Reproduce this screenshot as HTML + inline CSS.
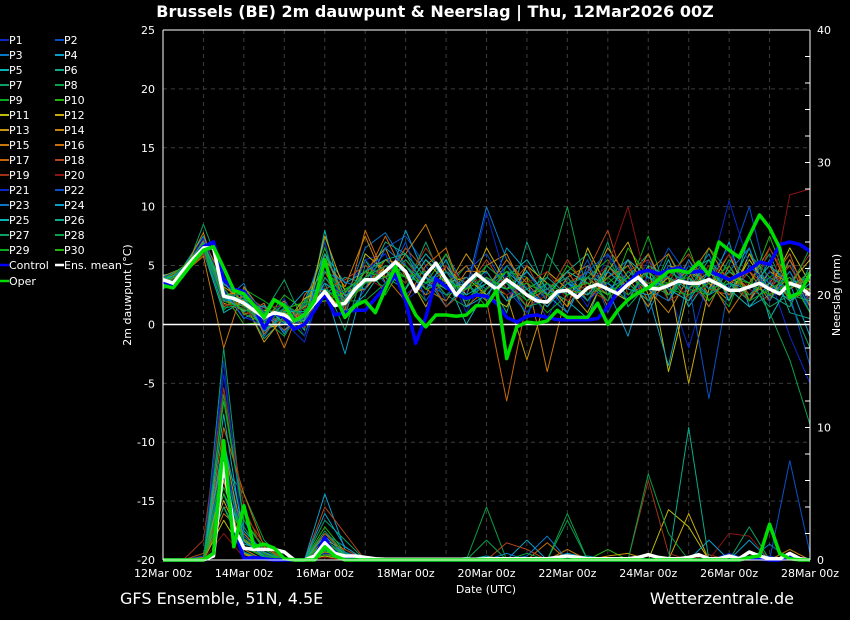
<!DOCTYPE html>
<html><head><meta charset="utf-8">
<style>
html,body{margin:0;padding:0;background:#000;}
svg{display:block;font-family:"DejaVu Sans","Liberation Sans",sans-serif;}
</style></head>
<body>
<svg id="chart" width="850" height="620" viewBox="0 0 850 620" xmlns="http://www.w3.org/2000/svg">
<rect width="850" height="620" fill="#000"/>
<text x="435" y="17" fill="#fff" font-size="16" font-weight="bold" text-anchor="middle">Brussels  (BE)  2m dauwpunt &amp; Neerslag | Thu, 12Mar2026 00Z</text>
<g id="grid"></g>
<g id="plot"></g>
<g id="axes"></g>
<g id="legend"></g>
<text x="131" y="295" fill="#fff" font-size="11" text-anchor="middle" transform="rotate(-90 131 295)">2m dauwpunt (°C)</text>
<text x="840" y="295" fill="#fff" font-size="11" text-anchor="middle" transform="rotate(-90 840 295)">Neerslag (mm)</text>
<text x="486" y="593" fill="#fff" font-size="11" text-anchor="middle">Date (UTC)</text>
<text x="120" y="604" fill="#fff" font-size="16">GFS Ensemble, 51N, 4.5E</text>
<text x="794" y="604" fill="#fff" font-size="16" text-anchor="end">Wetterzentrale.de</text>
</svg>
<script>
const xTickLabels = ['12Mar 00z','14Mar 00z','16Mar 00z','18Mar 00z','20Mar 00z','22Mar 00z','24Mar 00z','26Mar 00z','28Mar 00z'];
const leftTicks = [25,20,15,10,5,0,-5,-10,-15,-20];
const rightTicks = [40,30,20,10,0];
// 6-hourly series (65 points)
const meanDew = [3.8,3.5,4.6,5.6,6.5,6.5,2.4,2.2,1.8,1.2,0.6,1.0,0.8,0.3,0.8,1.8,2.8,1.6,1.8,3.0,3.8,3.8,4.5,5.3,4.5,2.8,4.2,5.2,3.8,2.5,3.5,4.3,3.6,3.0,3.8,3.2,2.5,2.0,1.9,2.8,2.9,2.3,3.1,3.4,3.0,2.6,3.4,4.0,3.1,3.0,3.3,3.7,3.5,3.5,3.8,3.4,2.9,2.9,3.2,3.5,3.0,2.6,3.5,3.2,2.5];
const controlDew = [3.6,3.4,4.5,5.6,6.6,7.0,3.8,3.0,2.8,1.5,-0.3,1.0,0.6,-0.4,0.0,1.2,2.6,0.8,1.0,1.2,1.2,2.2,3.2,4.2,2.0,-1.6,0.6,3.9,3.2,2.6,2.2,2.5,2.4,1.8,0.6,0.2,0.7,0.8,0.6,0.4,0.4,0.4,0.4,0.5,1.5,2.8,3.5,4.4,4.6,4.3,4.6,4.8,4.4,4.5,4.5,4.2,3.8,4.2,4.6,5.3,5.1,6.8,7.0,6.8,6.2];
const operDew = [3.3,3.1,4.2,5.3,6.3,6.6,4.8,2.9,2.6,1.6,0.6,2.1,1.6,0.3,0.8,2.0,5.5,2.5,0.6,1.6,2.0,1.0,3.0,4.9,2.5,0.8,-0.2,0.8,0.8,0.7,0.8,1.6,1.6,2.9,-2.9,-0.2,0.2,0.1,0.3,1.2,0.6,0.6,0.6,1.8,0.0,1.2,2.1,2.7,3.1,3.8,4.5,4.6,4.4,5.3,4.2,7.0,6.3,5.7,7.5,9.3,8.2,6.5,2.3,2.7,4.3];
const meanPrecip = [0,0,0,0,0,0.3,7.3,2.5,0.9,0.8,0.8,0.8,0.6,0,0,0.3,1.3,0.5,0.3,0.3,0.2,0.1,0.05,0.05,0.05,0.05,0.05,0.05,0.05,0.05,0.05,0.05,0.1,0.1,0.1,0.1,0.1,0.1,0.1,0.2,0.3,0.2,0.1,0.1,0.1,0.1,0.1,0.2,0.4,0.2,0.1,0.1,0.2,0.4,0.1,0.1,0.3,0.1,0.6,0.3,0.1,0.1,0.5,0.1,0];
const controlPrecip = [0,0,0,0,0,0.5,8.3,2.5,0.1,0.2,0.1,0,0,0,0,0.2,1.7,0.3,0.2,0,0,0,0,0,0,0,0,0,0,0,0,0,0,0,0,0,0,0,0,0,0,0,0,0,0,0,0,0,0,0,0,0,0,0,0,0,0,0,0.2,0.1,0,0,0.3,0.1,0];
const operPrecip = [0,0,0,0,0,0.5,9.0,1.0,4.1,1.0,1.2,0.9,0.1,0,0,0,1.0,0.3,0,0,0,0,0,0,0,0,0,0,0,0,0,0,0,0,0,0,0,0,0,0,0,0,0,0,0,0,0,0,0,0,0,0,0,0,0,0,0,0,0.2,0.3,2.7,0.5,0.1,0,0];
// 12-hourly member series (33 points each)
const memberDew = [
[3.5,4.8,7.2,3.0,1.0,-0.5,0.2,-1.5,4.0,2.5,5.5,6.0,2.0,3.5,5.0,1.0,4.5,2.0,3.5,0.5,4.0,1.5,6.0,2.0,5.5,3.0,-2.0,4.0,6.5,2.0,4.0,-1.0,-5.0],
[4.0,4.5,6.8,1.5,2.5,0.8,-0.5,1.5,7.0,0.5,3.0,6.5,7.5,5.0,2.0,4.5,6.0,3.0,1.0,3.5,2.5,5.5,1.0,4.5,3.0,6.5,4.0,1.5,5.0,10.0,3.0,5.5,1.0],
[3.8,4.2,6.0,2.0,3.5,-1.0,1.5,0.5,3.0,2.0,6.5,7.8,5.0,2.5,6.0,3.0,10.0,5.5,3.0,1.5,3.5,2.0,4.0,5.5,1.0,4.5,3.5,6.0,2.0,5.0,3.5,2.5,3.0],
[3.6,4.9,7.5,2.8,0.5,1.5,-0.8,2.0,6.0,3.5,4.5,3.0,8.0,4.0,1.5,3.5,2.0,6.5,4.5,2.5,1.0,4.5,3.0,-1.0,4.5,2.5,5.0,3.0,7.0,1.5,2.5,4.5,1.5],
[4.2,4.4,6.2,1.0,2.0,0.0,1.8,-0.5,8.0,1.0,2.5,5.0,3.5,6.0,4.0,0.0,3.0,4.0,5.5,3.0,2.0,0.5,5.0,3.5,2.0,5.5,1.5,4.0,3.0,6.5,0.5,3.5,4.0],
[3.4,4.6,6.6,3.5,1.8,-1.2,0.5,1.0,2.5,4.0,3.5,7.0,6.0,3.0,5.5,2.0,4.0,1.0,7.0,2.5,4.5,6.0,2.5,4.0,6.0,2.0,4.5,5.5,3.5,2.0,5.5,1.0,0.5],
[3.0,4.0,8.5,4.0,2.2,1.0,3.8,0.0,3.5,-0.5,5.0,4.0,3.0,7.0,3.0,5.0,2.5,4.5,0.5,6.0,3.5,3.0,7.0,1.5,3.5,4.0,2.0,6.5,4.5,3.5,6.0,2.0,-2.0],
[3.9,4.7,6.4,2.2,1.5,0.5,-1.0,1.8,5.0,2.0,2.0,3.5,6.5,4.5,2.5,1.5,5.0,3.5,2.0,4.0,10.0,2.5,3.5,5.0,2.0,6.0,3.0,2.5,5.5,4.0,1.0,-3.0,-8.5],
[3.7,4.3,6.9,1.2,3.0,2.0,0.8,-1.0,4.5,3.0,4.0,5.5,4.0,2.0,4.5,3.5,1.5,5.0,3.0,1.0,2.5,4.0,5.5,3.0,7.5,2.0,5.0,3.5,1.5,6.0,4.0,5.0,2.0],
[3.3,4.1,6.1,2.6,0.0,0.2,2.5,1.2,6.5,1.5,5.5,2.5,5.5,3.5,6.0,2.0,3.5,4.5,4.0,2.0,5.0,3.5,2.0,6.5,4.0,3.5,6.5,2.0,4.0,3.0,7.5,3.0,4.5],
[3.5,4.6,7.0,2.5,2.8,-0.3,0.0,2.2,3.0,0.8,6.0,4.5,3.0,5.5,3.5,4.0,2.5,1.5,5.0,3.5,1.5,6.5,3.0,2.0,5.0,-4.0,3.0,4.5,2.5,5.5,3.0,6.5,3.5],
[4.1,4.8,6.3,1.8,1.2,1.2,1.0,0.3,7.5,2.8,3.0,5.0,4.5,1.5,5.0,2.5,6.5,3.5,1.5,4.5,3.0,1.0,4.5,7.0,2.5,4.0,-5.0,3.0,6.0,2.0,4.5,3.5,5.5],
[3.6,4.4,6.7,3.2,2.0,-1.5,0.7,1.5,2.0,1.8,4.5,6.5,2.5,4.0,3.0,6.0,3.5,2.5,-3.0,2.5,5.5,3.0,6.5,4.0,1.5,5.0,4.5,3.5,2.0,6.0,2.5,4.0,2.5],
[3.2,4.5,7.8,2.0,1.6,0.4,2.0,-0.2,5.5,3.2,7.5,3.5,6.0,8.5,4.5,3.0,5.0,6.0,2.5,3.5,1.5,4.0,2.5,5.5,3.0,1.0,4.0,6.5,3.5,4.5,2.0,5.5,2.5],
[3.9,4.3,5.8,-2.0,3.2,0.9,-0.5,0.8,3.5,2.5,3.0,5.5,5.0,3.0,2.0,4.5,4.5,2.0,4.0,-4.0,3.0,2.5,5.0,3.0,6.0,2.5,5.5,2.5,4.5,3.0,5.0,2.0,3.0],
[3.4,4.7,7.1,3.8,0.8,1.8,-2.0,2.5,4.5,1.2,8.0,4.0,2.0,5.0,6.5,1.5,3.0,5.5,3.5,1.5,4.0,5.0,1.5,3.5,4.5,6.0,2.5,4.0,1.0,3.5,6.5,3.0,4.0],
[3.7,4.9,6.5,1.5,2.4,-0.8,1.2,0.5,6.0,2.0,4.0,7.5,4.0,2.5,3.5,5.0,2.0,-6.5,2.0,3.0,4.5,2.0,4.0,5.0,2.0,3.5,4.5,1.5,5.0,2.5,3.5,6.0,1.5],
[3.5,4.2,6.0,2.7,1.0,0.6,0.3,1.0,3.0,3.8,5.0,4.0,6.5,4.5,1.5,3.0,5.5,3.0,5.0,2.0,3.5,4.5,8.0,2.5,3.5,4.0,6.0,3.0,2.5,4.5,3.0,5.0,2.0],
[3.8,4.6,6.8,2.3,2.6,1.4,1.6,-0.3,4.0,1.5,3.5,5.0,3.5,6.5,4.0,2.0,3.0,4.0,1.5,2.5,5.5,3.0,2.0,4.5,5.5,2.0,3.0,5.0,4.0,2.0,6.5,3.5,6.0],
[3.3,4.4,6.2,1.7,1.4,-0.2,0.4,1.4,2.5,2.2,4.0,3.0,5.5,3.0,5.0,3.5,4.0,2.5,3.5,4.5,2.0,3.5,5.0,10.0,3.0,4.5,2.0,3.5,6.0,3.0,2.0,11.0,11.5],
[3.6,4.5,7.3,2.9,0.6,0.0,2.2,-1.0,3.5,2.6,4.5,6.0,2.5,4.0,3.5,2.5,9.5,3.5,1.0,3.0,4.0,2.0,3.5,2.5,4.0,3.0,5.0,4.0,10.5,5.0,3.0,4.0,2.0],
[4.0,4.8,6.4,1.9,2.9,1.1,-0.6,0.6,5.0,1.0,5.5,3.5,7.0,2.0,4.5,3.0,4.0,2.0,4.5,2.0,3.0,4.5,6.0,3.5,2.0,5.0,3.5,-6.3,3.5,2.5,4.5,2.5,-3.5],
[3.4,4.0,6.9,2.1,1.9,0.3,1.4,0.9,4.5,3.6,3.0,6.5,5.0,3.5,2.5,4.0,3.0,5.0,2.5,3.5,1.0,5.0,3.0,4.0,3.0,2.0,5.5,3.0,4.5,6.5,2.0,4.5,1.0],
[3.7,4.6,6.6,3.4,2.3,-0.6,0.9,2.8,3.0,-2.5,4.0,5.0,4.5,3.0,5.5,1.5,2.5,4.5,3.0,1.5,3.5,2.5,4.5,3.0,2.5,-3.5,4.0,2.5,3.5,3.0,5.0,3.5,-1.0],
[3.9,4.3,6.3,2.4,1.1,1.6,0.1,0.4,6.0,2.4,3.5,4.5,3.0,5.5,4.0,2.5,3.5,3.0,4.5,2.5,4.5,3.5,2.5,5.5,4.0,3.0,2.0,4.5,3.0,1.5,3.5,2.0,3.5],
[3.5,4.7,7.0,2.6,2.1,0.7,1.1,1.1,3.5,2.2,4.5,5.5,6.0,4.0,3.0,3.5,4.5,2.0,3.0,4.0,2.5,4.0,3.5,2.0,5.0,4.0,3.0,5.5,2.0,7.5,2.5,1.5,5.0],
[3.1,4.1,6.4,1.4,1.7,-0.4,0.6,0.2,4.0,1.9,3.5,4.0,5.5,3.5,4.5,2.0,3.5,3.5,2.5,3.0,4.0,2.0,5.0,3.5,2.0,4.5,3.5,2.5,4.5,3.5,1.5,2.5,2.0],
[3.6,4.5,6.5,2.3,2.7,0.9,0.2,1.6,2.5,2.9,4.0,5.0,4.0,4.5,2.5,3.0,5.0,3.5,1.5,2.0,3.5,4.0,2.0,4.5,3.5,2.5,4.5,3.0,3.5,2.5,4.0,3.0,6.5],
[3.4,4.4,6.7,2.0,1.3,0.5,1.7,0.7,3.0,1.6,3.5,4.5,4.0,3.5,4.0,2.0,3.0,4.5,2.0,3.5,2.5,3.0,4.0,2.5,4.5,3.0,2.5,3.5,5.0,2.0,3.0,4.0,1.0],
[3.8,4.9,6.9,3.1,0.9,0.1,1.3,1.9,2.0,2.7,4.5,4.0,5.0,3.0,3.5,3.0,4.0,3.0,3.5,2.5,3.0,3.5,2.5,4.0,3.0,3.5,4.0,2.0,4.0,3.5,2.5,3.5,3.0]
];
const memberPrecip = [
[0,0,0,14,3,0,0,0,0.5,0,0,0,0,0,0,0,0,0,0,0,0,0,0,0,0,0,0,0,0.5,0,0.3,0,0],
[0,0,0.3,8,1,0.5,0,0,1,0.5,0,0,0,0,0,0,0,0,0,0,0,0,0,0,0,0,0,0,0,0,0,7.5,0.5],
[0,0,0,6,1.5,0.2,0,0,2,1,0,0,0,0,0,0,0,0.5,0,0,0,0,0,0,0,0,0,0,0,0,1.2,0,0],
[0,0,0,5,2,0.3,0,0,5,0.8,0,0,0,0,0,0,0,0,1.5,0,0.5,0.2,0,0,0,0,0,0,0,1.5,0,0,0],
[0,0,0,9,0.8,0,0,0,0.8,0.3,0,0,0,0,0,0,0.3,0,0,0,0,0,0,0,0,0.2,0,0,0,0,0,0,0],
[0,0,0,4,1.2,0.8,0,0,1.2,0,0,0,0,0,0,0,0,0,0,0,0,0,0,0,0,0,0,0,0,0,0,0,0],
[0,0,0,16,2.5,0.2,0,0,3,1.5,0,0,0,0,0,0,0,0,0,0,0,0,0,0,0,0,0,0,0,0,0,0,0],
[0,0,0,7,5,1.5,0,0,0.5,0.2,0,0,0,0,0,0,4,0,0.2,0,3.5,0,0,0,0,0,0,0,0,0,0,0,0],
[0,0,0,5.5,1.8,0.4,0,0,1.5,0.4,0,0,0,0,0,0,0,0,0,0,0,0,0,0,0,0,0,0,0,0,0,0,0],
[0,0,0,12,3,1,0,0,2.5,0.6,0,0,0,0,0,0,0,0,0,0,0,0,0.8,0,0,0,0,0,0,0,0,0,0],
[0,0,0,3,0.5,0,0,0,0.3,0,0,0,0,0,0,0,0,0,0,0,0,0,0,0,0,3.8,2.5,0,0,0,0,0,0],
[0,0,0,4.5,1,0.3,0,0,0.8,0.2,0,0,0,0,0,0,0,0,0,0,0,0,0,0,0.5,0,3.5,0,0,0,0,0,0],
[0,0,0,6,0.4,0,0,0,1,0,0,0,0,0,0,0,0,0,0,0,0,0,0.3,0.5,0,0,0,0,0,0,0,0,0],
[0,0,0.2,8.5,1.5,0.5,0,0,0.6,0.3,0,0,0,0,0,0,0,0,0,0,0,0,0,0,0,0,0,0,0,0,0,0.8,0],
[0,0,0,5,0.8,0,0,0,1.5,0.8,0,0,0,0,0,0,0,0,0,0,0.8,0,0,0,0,0,0,0,0,0,0,0,0],
[0,0,0,3.5,2,0.4,0,0,0.5,0,0,0,0,0,0,0,0,0,0,1.3,0,0,0,0,0,0,0,0,0,0,0,0,0],
[0,0,0,10,5,1,0,0,2,0.5,0,0,0,0,0,0,0,0,0,0,0,0,0,0,0,0,0,0,0,0,0,0,0],
[0,0,0.5,4,3.5,1.2,0,0,4,2,0,0,0,0,0,0,0,1.3,0.8,0,0,0,0,0,0,0,0,0.4,0,0,0,0,0],
[0,0,1.5,13,4,0.5,0,0,1,0.8,0,0,0,0,0,0,0,0,0,0,0,0,0,0,6,0.5,0,0,0,0,0,0,0],
[0,0,0,2,0.2,0,0,0,0.2,0,0,0,0,0,0,0,0,0,0,0,0,0,0,0,0,0,0,0,2,1.8,0,0,0],
[0,0,0,15,1,0.2,0,0,0.5,0.3,0,0,0,0,0,0,0,0,0,0,0,0,0,0,0,0,0,0,0,2.5,0,0,0],
[0,0,0,7,1.8,0.4,0,0,0.8,0.5,0,0,0,0,0,0,0,0,0,0,0,0,0,0,0,0,0,0,0,0,0,0,0],
[0,0,0,5,0.6,0,0,0,1.2,0.6,0,0,0,0,0,0,0,0,0.3,1.8,0,0,0,0,0,0,0,0,0,0,0,0,0],
[0,0,0,9,2.2,0.6,0,0,3.5,1,0,0,0,0,0,0,0,0,0,0,0,0,0,0,0,0,0,1.5,0,0,0,0,0],
[0,0,0,11,1.4,0.3,0,0,1.8,0.4,0,0,0,0,0,0.2,0,0,0,0,0,0.3,0,0,0,0,0,0,0,0,0,0,0],
[0,0,0,6.5,1,0.2,0,0,0.7,0.2,0,0,0,0,0,0,0,0,0,0,0,0,0,0,0,0,10,0,0,0,0,0,0],
[0,0,0,4,0.6,0,0,0,2.2,0.5,0,0,0,0,0,0,0,0,0,0,0,0,0,0,0,0,0,0,0,0,0,0,0],
[0,0,0,12.5,3,0.8,0,0,1.3,0.4,0,0,0,0,0,0,1.5,0,0.5,0,3,0,0,0,6.5,2,0,0,0,2.5,0,0,0],
[0,0,0,7.5,0.9,0.3,0,0,0.4,0,0,0,0,0,0,0,0,0,0,0,0,0,0,0,0,0,0,0,0,0,0,0,0],
[0,0,0,5,1.6,0.5,0,0,1.4,0.3,0,0,0,0,0,0,0,0,0,0,0,0,0,0,0,0,0,0,0,0,0,0,0]
];
const memberColors = ['#0a28c8','#0a50c8','#0a78c8','#0a9ec8','#0ab4b4','#0aaa8c','#0aa064','#0aa046','#0aaa1e','#1eb40a','#bebe0a','#c8aa0a','#c8960a','#c8820a','#c8780a','#c86e0a','#c8640a','#b4461e','#a03214','#8c1414','#0a28c8','#0a50c8','#0a78c8','#0a9ec8','#0ab4b4','#0aaa8c','#0aa064','#0aa046','#0aaa1e','#1eb40a'];

const NS='http://www.w3.org/2000/svg';
const X0=163, X1=810, Y0=30, Y1=560;
const xHour = h => X0 + (X1-X0)*h/384;
const yDew = v => Y0 + (25 - v)*(Y1-Y0)/45;
const yPr = v => Y1 - v*(Y1-Y0)/40;
function mk(tag, attrs, parent){const e=document.createElementNS(NS,tag);for(const k in attrs)e.setAttribute(k,attrs[k]);parent.appendChild(e);return e;}
const grid=document.getElementById('grid'), plot=document.getElementById('plot'), axes=document.getElementById('axes'), legend=document.getElementById('legend');

for(let d=1; d<16; d++){
  const g=mk('line',{x1:xHour(d*24),x2:xHour(d*24),y1:Y0,y2:Y1,stroke:'#3c3c3c','stroke-dasharray':'4,4','stroke-width':1},grid);
  
  
}
leftTicks.forEach(v=>{
  if(v===25||v===-20||v===0) return;
  const g=mk('line',{x1:X0,x2:X1,y1:yDew(v),y2:yDew(v),stroke:'#3c3c3c','stroke-dasharray':'4,4','stroke-width':1},grid);
  
  
});

function poly(vals, step, scale, color, w, name){
  const pts = vals.map((v,i)=>xHour(i*step).toFixed(1)+','+scale(v).toFixed(1)).join(' ');
  const p=mk('polyline',{points:pts,fill:'none',stroke:color,'stroke-width':w,'stroke-linejoin':'round'},plot);
  
  
}
memberPrecip.forEach((arr,k)=>poly(arr,12,yPr,memberColors[k],1,'precip-member-p'+(k+1)));
memberDew.forEach((arr,k)=>poly(arr,12,yDew,memberColors[k],1,'dewpoint-member-p'+(k+1)));
const zl=mk('line',{x1:X0,x2:X1,y1:yDew(0),y2:yDew(0),stroke:'#fff','stroke-width':1.5},plot);


poly(controlPrecip,6,yPr,'#0000ff',3.5,'precip-control');
poly(meanPrecip,6,yPr,'#ffffff',3.5,'precip-ens-mean');
poly(operPrecip,6,yPr,'#00dd00',3.5,'precip-oper');
poly(controlDew,6,yDew,'#0000ff',3.5,'dewpoint-control');
poly(meanDew,6,yDew,'#ffffff',3.5,'dewpoint-ens-mean');
poly(operDew,6,yDew,'#00dd00',3.5,'dewpoint-oper');

// frame
[[X0,Y0,X0,Y1],[X1,Y0,X1,Y1],[X0,Y1,X1,Y1],[X0,Y0,X1,Y0]].forEach(c=>{
  const l=mk('line',{x1:c[0],y1:c[1],x2:c[2],y2:c[3],stroke:'#fff','stroke-width':1},axes);
  
  
});
leftTicks.forEach(v=>{
  const t=mk('text',{x:155,y:yDew(v)+4,fill:'#fff','font-size':11,'text-anchor':'end'},axes);
  t.textContent=v;
  
  
});
rightTicks.forEach(v=>{
  const t=mk('text',{x:817,y:yPr(v)+4,fill:'#fff','font-size':11},axes);
  t.textContent=v;
  
  
});
for(let v=2; v<40; v+=2){
  const t=mk('line',{x1:X1-5,x2:X1,y1:yPr(v),y2:yPr(v),stroke:'#fff','stroke-width':1},axes);
  
  
}
xTickLabels.forEach((s,k)=>{
  const t=mk('text',{x:xHour(k*48),y:577,fill:'#fff','font-size':11,'text-anchor':'middle'},axes);
  t.textContent=s;
  
  
});

// legend
const legNames=[];
for(let k=1;k<=30;k++) legNames.push('P'+k);
legNames.forEach((n,k)=>{
  const col=k%2, row=Math.floor(k/2);
  const x=col?55:0, y=40+row*15;
  const l=mk('line',{x1:x,x2:x+9,y1:y,y2:y,stroke:memberColors[k],'stroke-width':2},legend);
  
  
  const t=mk('text',{x:x+9,y:y+4,fill:'#fff','font-size':11},legend);
  t.textContent=n;
  
  
});
[['Control','#0000ff',0,265],['Ens. mean','#ffffff',55,265],['Oper','#00dd00',0,281]].forEach(e=>{
  const l=mk('line',{x1:e[2],x2:e[2]+9,y1:e[3],y2:e[3],stroke:e[1],'stroke-width':2.5},legend);
  
  
  const t=mk('text',{x:e[2]+9,y:e[3]+4,fill:'#fff','font-size':11},legend);
  t.textContent=e[0];
  
  
});
</script>
</body></html>
